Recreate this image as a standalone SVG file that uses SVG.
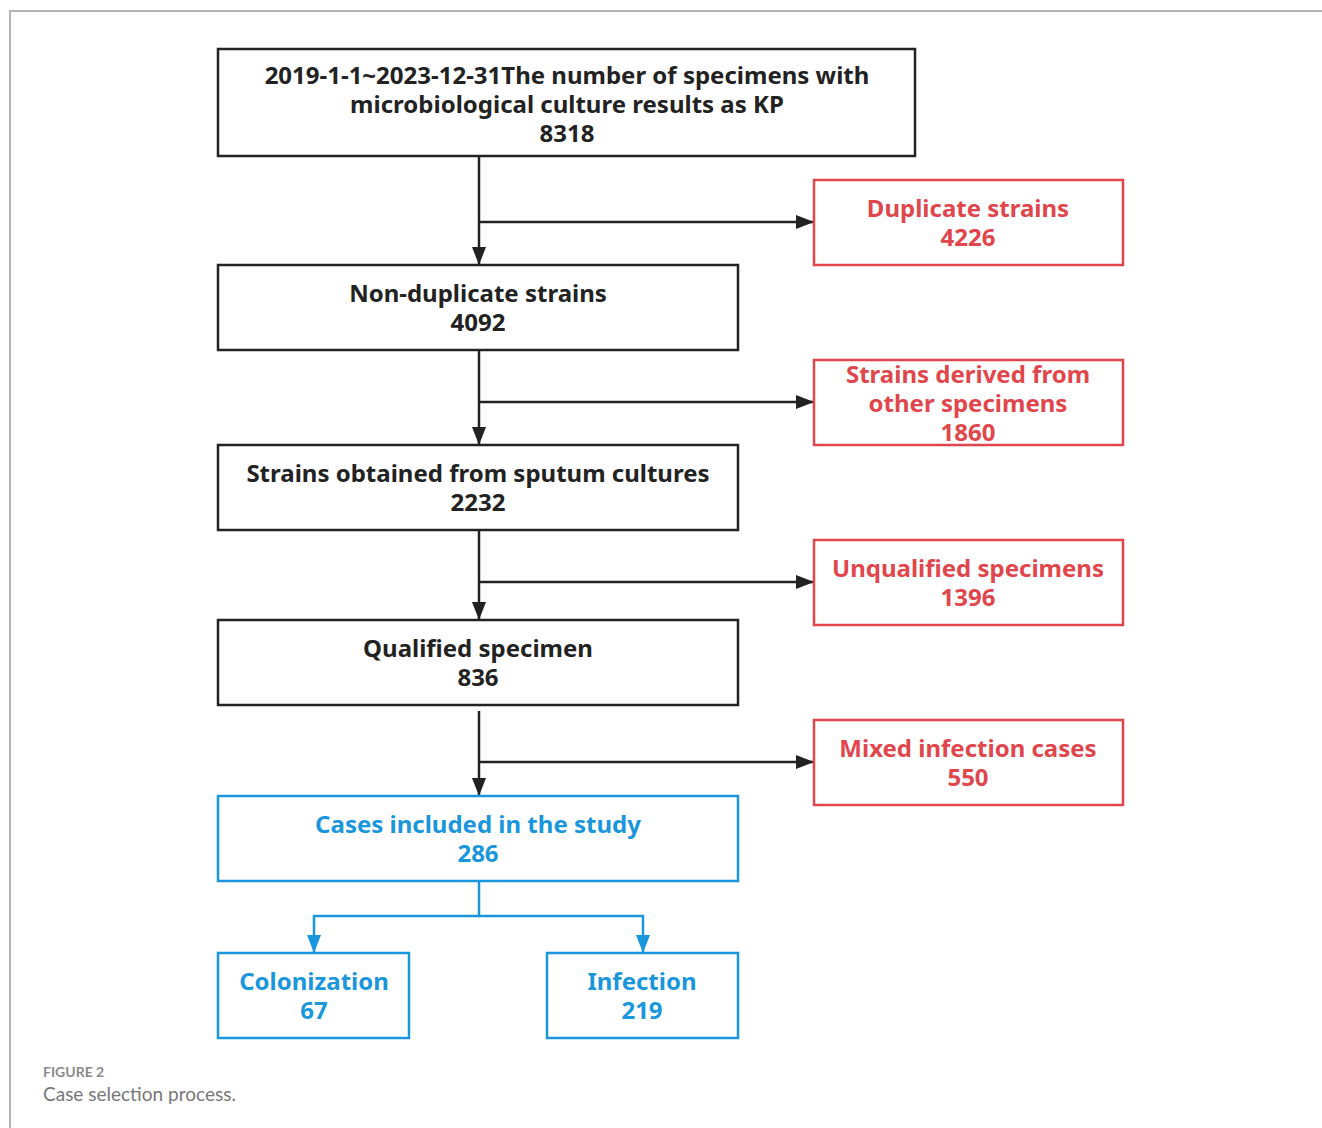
<svg xmlns="http://www.w3.org/2000/svg" width="1322" height="1128" viewBox="0 0 1322 1128">
<style>
.t{font-family:"Noto Sans","Liberation Sans",sans-serif;font-weight:bold;font-size:24px;text-anchor:middle}
.k{fill:#222}.r{fill:#e0464b}.b{fill:#1a96dc}
.bk{fill:#fff;stroke:#222;stroke-width:2.5}
.br{fill:#fff;stroke:#e0464b;stroke-width:2.5}
.bb{fill:#fff;stroke:#1a96dc;stroke-width:2.5}
.ck{fill:none;stroke:#222;stroke-width:2.5}
.cb{fill:none;stroke:#1a96dc;stroke-width:2.5}
</style>
<defs>
<marker id="ak" markerWidth="18" markerHeight="14" refX="18" refY="7" orient="auto" markerUnits="userSpaceOnUse" viewBox="0 0 18 14"><path d="M0,0 L18,7 L0,14 z" fill="#222"/></marker>
<marker id="ab" markerWidth="18" markerHeight="14" refX="18" refY="7" orient="auto" markerUnits="userSpaceOnUse" viewBox="0 0 18 14"><path d="M0,0 L18,7 L0,14 z" fill="#1a96dc"/></marker>
</defs>
<rect width="1322" height="1128" fill="#fff"/>
<path d="M10,1128 V11 H1322" fill="none" stroke="#b5b5b5" stroke-width="2"/>
<g id="connectors">
<path class="ck" d="M479,156 V265" marker-end="url(#ak)"/>
<path class="ck" d="M479,222 H814" marker-end="url(#ak)"/>
<path class="ck" d="M479,350 V445" marker-end="url(#ak)"/>
<path class="ck" d="M479,402 H814" marker-end="url(#ak)"/>
<path class="ck" d="M479,530 V620" marker-end="url(#ak)"/>
<path class="ck" d="M479,582 H814" marker-end="url(#ak)"/>
<path class="ck" d="M479,711 V796" marker-end="url(#ak)"/>
<path class="ck" d="M479,762 H814" marker-end="url(#ak)"/>
<path class="cb" d="M479,881 V916 H314 V953" marker-end="url(#ab)"/>
<path class="cb" d="M479,916 H643 V953" marker-end="url(#ab)"/>
</g>
<g id="n1"><rect class="bk" x="218" y="49" width="697" height="107"/>
<text class="t k" x="567" y="84">2019-1-1~2023-12-31The number of specimens with</text>
<text class="t k" x="567" y="113">microbiological culture results as KP</text>
<text class="t k" x="567" y="142">8318</text></g>
<g id="n2"><rect class="br" x="814" y="180" width="309" height="85"/>
<text class="t r" x="968" y="217">Duplicate strains</text><text class="t r" x="968" y="246">4226</text></g>
<g id="n3"><rect class="bk" x="218" y="265" width="520" height="85"/>
<text class="t k" x="478" y="302">Non-duplicate strains</text><text class="t k" x="478" y="331">4092</text></g>
<g id="n4"><rect class="br" x="814" y="360" width="309" height="85"/>
<text class="t r" x="968" y="383">Strains derived from</text><text class="t r" x="968" y="412">other specimens</text><text class="t r" x="968" y="441">1860</text></g>
<g id="n5"><rect class="bk" x="218" y="445" width="520" height="85"/>
<text class="t k" x="478" y="482">Strains obtained from sputum cultures</text><text class="t k" x="478" y="511">2232</text></g>
<g id="n6"><rect class="br" x="814" y="540" width="309" height="85"/>
<text class="t r" x="968" y="577">Unqualified specimens</text><text class="t r" x="968" y="606">1396</text></g>
<g id="n7"><rect class="bk" x="218" y="620" width="520" height="85"/>
<text class="t k" x="478" y="657">Qualified specimen</text><text class="t k" x="478" y="686">836</text></g>
<g id="n8"><rect class="br" x="814" y="720" width="309" height="85"/>
<text class="t r" x="968" y="757">Mixed infection cases</text><text class="t r" x="968" y="786">550</text></g>
<g id="n9"><rect class="bb" x="218" y="796" width="520" height="85"/>
<text class="t b" x="478" y="833">Cases included in the study</text><text class="t b" x="478" y="862">286</text></g>
<g id="n10"><rect class="bb" x="218" y="953" width="191" height="85"/>
<text class="t b" x="314" y="990">Colonization</text><text class="t b" x="314" y="1019">67</text></g>
<g id="n11"><rect class="bb" x="547" y="953" width="191" height="85"/>
<text class="t b" x="642" y="990">Infection</text><text class="t b" x="642" y="1019">219</text></g>
<text x="43" y="1077" font-family="Lato,'Noto Sans',sans-serif" font-weight="bold" font-size="14" fill="#8a8a8a">FIGURE 2</text>
<text x="43" y="1101" font-family="Lato,'Noto Sans',sans-serif" font-size="19" fill="#777">Case selection process.</text>
</svg>
